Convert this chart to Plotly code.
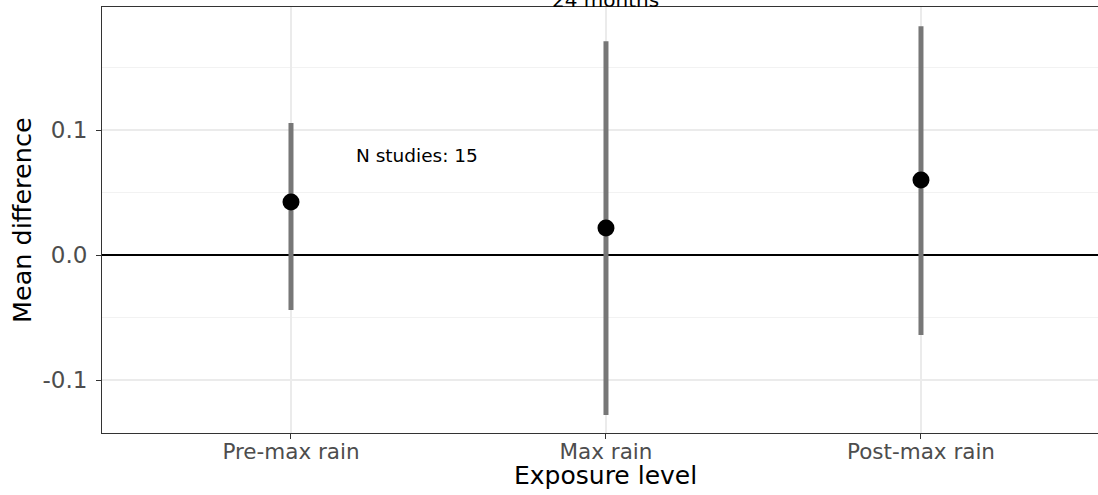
import plotly.graph_objects as go

categories = ["Pre-max rain", "Max rain", "Post-max rain"]
mean_diff = [0.0424, 0.0216, 0.060]
ci_low = [-0.044, -0.128, -0.064]
ci_high = [0.1056, 0.171, 0.183]
panel_title = "24 months"
n_label = "N studies: 15"
n_label_x = 0.4   # category index position
n_label_y = 0.08

FONT = "DejaVu Sans"

err_plus = [h - m for h, m in zip(ci_high, mean_diff)]
err_minus = [m - l for m, l in zip(mean_diff, ci_low)]

fig = go.Figure()
fig.add_trace(go.Scatter(
    x=categories, y=mean_diff, mode="markers",
    marker=dict(color="black", size=17),
    error_y=dict(type="data", array=err_plus, arrayminus=err_minus,
                 color="#777777", thickness=5, width=0, symmetric=False),
    showlegend=False, cliponaxis=False,
))

fig.update_layout(
    width=1098, height=495,
    margin=dict(l=102, r=0, t=7, b=62),
    plot_bgcolor="white", paper_bgcolor="white",
    font=dict(family=FONT),
    xaxis=dict(
        type="category", range=[-0.6, 2.562],
        showgrid=True, gridcolor="#ebebeb", gridwidth=1.5,
        showline=True, linecolor="#333333", linewidth=1, mirror=True,
        ticks="outside", ticklen=5, tickcolor="#333333", tickwidth=1,
        tickfont=dict(size=21.5, color="#4d4d4d", family=FONT),
        ticklabelstandoff=-6,
        zeroline=False,
    ),
    yaxis=dict(
        range=[-0.1424, 0.1984],
        tickvals=[-0.1, 0.0, 0.1], ticktext=["-0.1", "0.0", "0.1"],
        showgrid=True, gridcolor="#ebebeb", gridwidth=1.5,
        minor=dict(tickvals=[-0.05, 0.05, 0.15], showgrid=True,
                   gridcolor="#f2f2f2", gridwidth=1),
        showline=True, linecolor="#333333", linewidth=1, mirror=False,
        ticks="outside", ticklen=5, tickcolor="#333333", tickwidth=1,
        tickfont=dict(size=23, color="#4d4d4d", family=FONT),
        ticklabelstandoff=4,
        zeroline=True, zerolinecolor="black", zerolinewidth=2,
    ),
    annotations=[
        dict(text=n_label, x=n_label_x, y=n_label_y, xref="x", yref="y",
             showarrow=False, font=dict(size=18.5, color="black", family=FONT)),
        dict(text=panel_title, x=1, xref="x", y=1, yref="paper",
             yanchor="bottom", yshift=-7, showarrow=False,
             font=dict(size=20, color="black", family=FONT)),
        dict(text="Exposure level", x=1, xref="x", y=0, yref="paper",
             yanchor="top", yshift=-26, showarrow=False,
             font=dict(size=25, color="black", family=FONT)),
        dict(text="Mean difference", x=0, xref="paper", xshift=-80,
             xanchor="center", yanchor="middle",
             y=0.5, yref="paper", textangle=-90, showarrow=False,
             font=dict(size=25.5, color="black", family=FONT)),
    ],
)

fig.write_html("out.html", config={"displayModeBar": False},
               post_script="document.body.style.margin='0';document.body.style.padding='0';")
